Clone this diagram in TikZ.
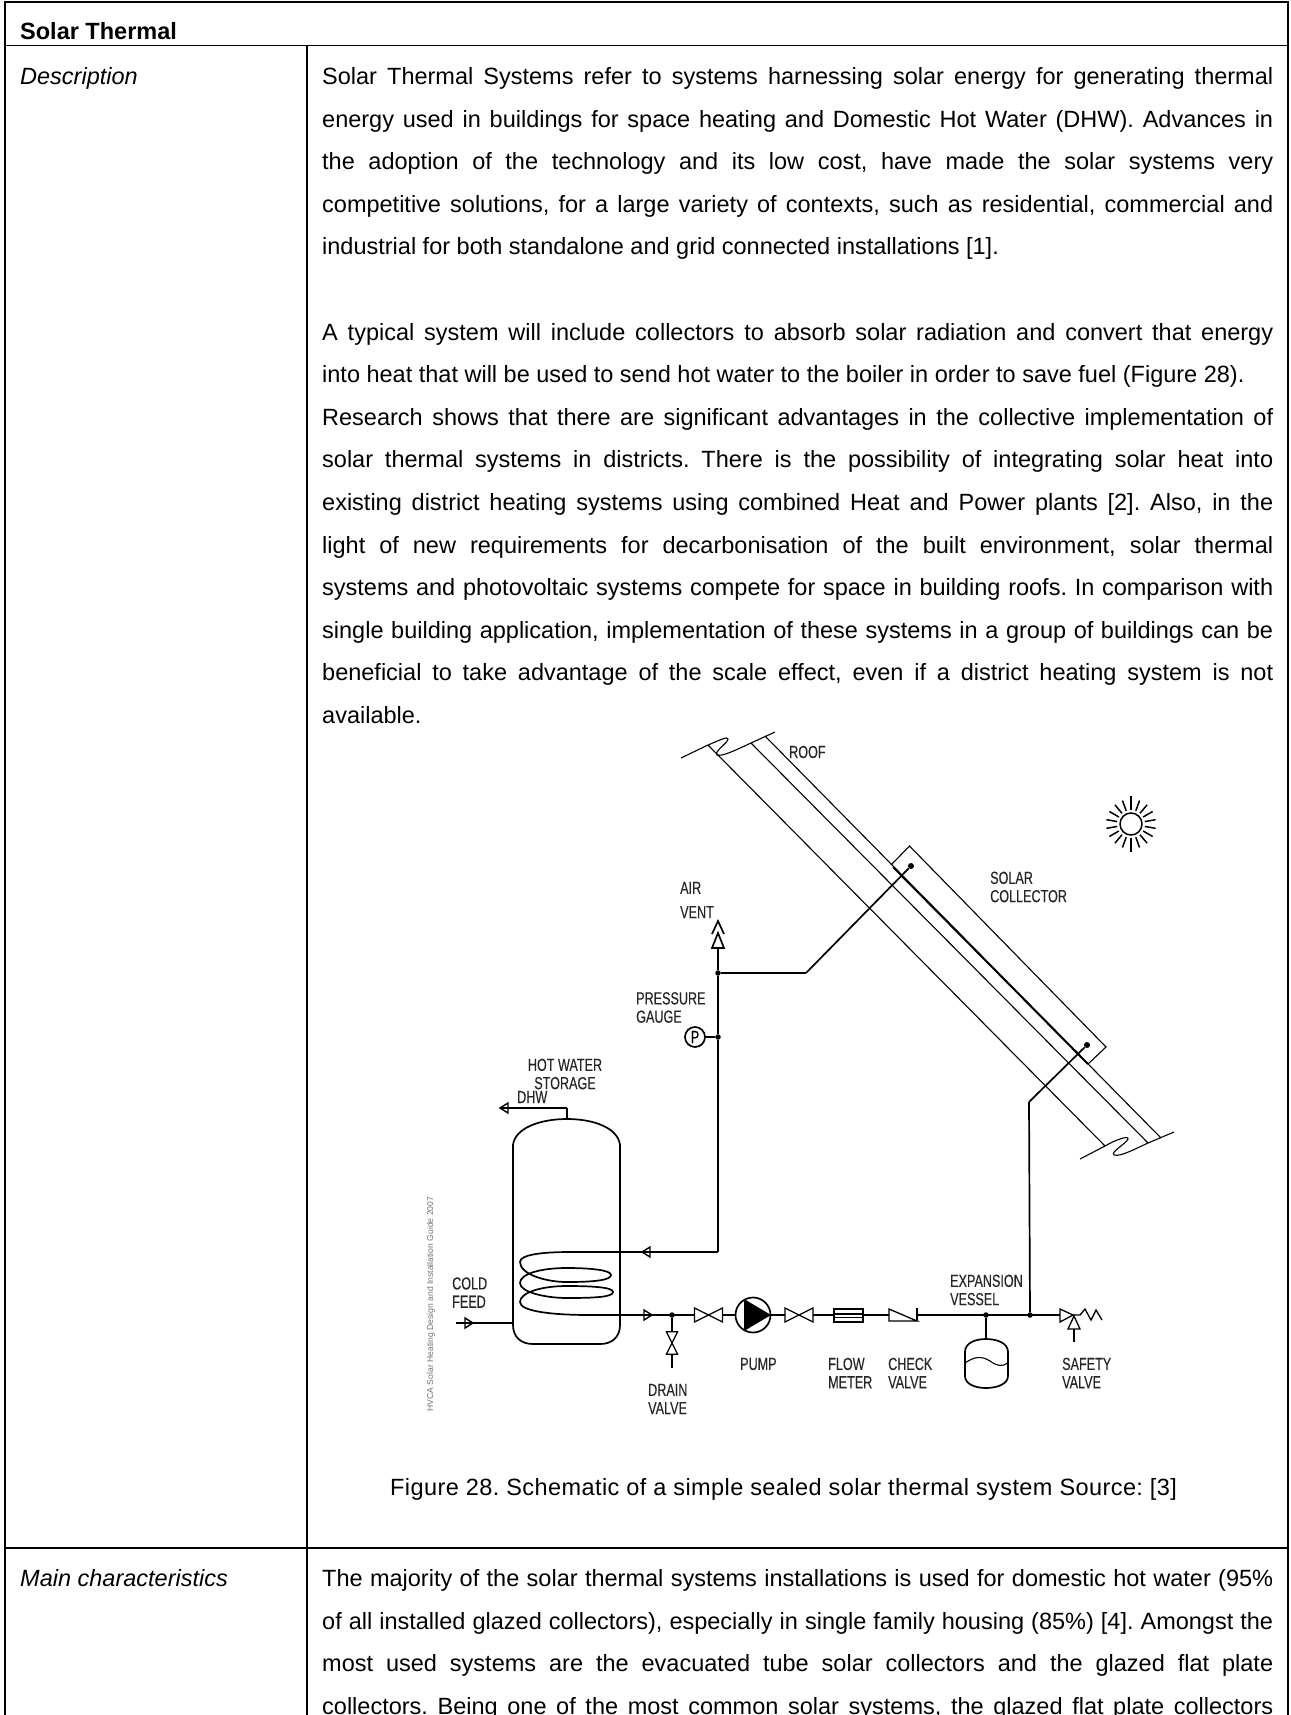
\documentclass[tikz,border=0pt]{standalone}
\usepackage{amsmath,amsthm,amssymb}
\usepackage{fontspec}
\setmainfont{Liberation Sans}
\newfontfamily\figcapfont[LetterSpace=1.8]{Liberation Sans}
\newfontfamily\cadfont[FakeStretch=0.72,FakeBold=0.25]{Liberation Sans}
\usepackage{tikz}
\usetikzlibrary{positioning}
\frenchspacing
\newcommand{\jline}[1]{\makebox[951pt][s]{#1}}
\tikzset{
    bodyline/.style={anchor=base west,inner sep=0pt,font=\fontsize{23.5}{28}\selectfont},
    boldline/.style={bodyline,font=\fontsize{23.5}{28}\selectfont\bfseries},
    rowhead/.style={bodyline,font=\fontsize{23.5}{28}\selectfont\itshape},
    figcap/.style={anchor=base west,inner sep=0pt,font=\figcapfont\fontsize{23.5}{28}\selectfont},
    cadtext/.style={anchor=west,inner sep=0pt,align=left,text=black!85,font=\cadfont\fontsize{17.5}{18.3}\selectfont},
    tableline/.style={line width=1.8pt},
    pipe/.style={line width=1.7pt},
    thinline/.style={line width=1.1pt},
    junction/.style={circle,fill,inner sep=0pt,minimum size=5.5pt},
    gatevalve/.pic={
        \draw[line width=1.3pt,fill=white] (-14,-7) -- (14,7) -- (14,-7) -- (-14,7) -- cycle;
    },
    flowarrow/.pic={
        \draw[line width=1.4pt] (-4,-5) -- (-4,5) -- (4,0) -- cycle;
    }
}
\begin{document}
\begin{tikzpicture}[x=1pt,y=-1pt]
                \useasboundingbox (0,0) rectangle (1290,1715);
                \draw[tableline] (5,1716) -- (5,2) -- (1288,2) -- (1288,1716);
                \draw[tableline] (5,45.5) -- (1288,45.5);
                \draw[tableline] (307,45.5) -- (307,1716);
                \draw[tableline] (5,1548) -- (1288,1548);
                \node[boldline] (title) at (20,40) {Solar Thermal};
                \node[rowhead] (descr) at (20,84.5) {Description};
                \node[rowhead] (mainchar) at (20,1586) {Main characteristics};
                \node[bodyline] (la) at (322,84.5) {\jline{Solar Thermal Systems refer to systems harnessing solar energy for generating thermal}};
                \node[bodyline] (lb) at (322,127.1) {\jline{energy used in buildings for space heating and Domestic Hot Water (DHW). Advances in}};
                \node[bodyline] (lc) at (322,169.7) {\jline{the adoption of the technology and its low cost, have made the solar systems very}};
                \node[bodyline] (ld) at (322,212.3) {\jline{competitive solutions, for a large variety of contexts, such as residential, commercial and}};
                \node[bodyline] (le) at (322,254.9) {industrial for both standalone and grid connected installations [1].};
                \node[bodyline] (lf) at (322,340.1) {\jline{A typical system will include collectors to absorb solar radiation and convert that energy}};
                \node[bodyline] (lg) at (322,382.7) {into heat that will be used to send hot water to the boiler in order to save fuel (Figure 28).};
                \node[bodyline] (lh) at (322,425.3) {\jline{Research shows that there are significant advantages in the collective implementation of}};
                \node[bodyline] (li) at (322,467.9) {\jline{solar thermal systems in districts. There is the possibility of integrating solar heat into}};
                \node[bodyline] (lj) at (322,510.5) {\jline{existing district heating systems using combined Heat and Power plants [2]. Also, in the}};
                \node[bodyline] (lk) at (322,553.1) {\jline{light of new requirements for decarbonisation of the built environment, solar thermal}};
                \node[bodyline] (ll) at (322,595.7) {\jline{systems and photovoltaic systems compete for space in building roofs. In comparison with}};
                \node[bodyline] (lm) at (322,638.3) {\jline{single building application, implementation of these systems in a group of buildings can be}};
                \node[bodyline] (ln) at (322,680.9) {\jline{beneficial to take advantage of the scale effect, even if a district heating system is not}};
                \node[bodyline] (lo) at (322,723.5) {available.};
                \node[figcap] (figcaption) at (390,1495) {Figure 28. Schematic of a simple sealed solar thermal system Source: [3]};
                \node[bodyline] (ma) at (322,1586) {\jline{The majority of the solar thermal systems installations is used for domestic hot water (95\%}};
                \node[bodyline] (mb) at (322,1629) {\jline{of all installed glazed collectors), especially in single family housing (85\%) [4]. Amongst the}};
                \node[bodyline] (mc) at (322,1671.5) {\jline{most used systems are the evacuated tube solar collectors and the glazed flat plate}};
                \node[bodyline] (md) at (322,1714) {\jline{collectors. Being one of the most common solar systems, the glazed flat plate collectors}};
                \draw[thinline] (708,745) -- (1105,1146);
                \draw[thinline] (751,743) -- (1148,1143);
                \draw[thinline] (765,736) -- (1161,1138);
                \draw[thinline] (681,758) -- (708,745) .. controls (720,740) and (728,736) .. (728,739) .. controls (728,743) and (714,751) .. (717,755) .. controls (722,757) and (738,749) .. (751,743) -- (775,732);
                \draw[thinline] (1080,1159) -- (1105,1146) .. controls (1115,1140) and (1129,1135) .. (1128,1139) .. controls (1126,1144) and (1110,1152) .. (1114,1155) .. controls (1120,1157) and (1135,1149) .. (1148,1143) -- (1174,1132);
                \draw[thinline] (891,865) -- (909.5,846) -- (1106,1047) -- (1088,1064);
                \draw[line width=2pt] (893,867) -- (1088,1064);
                \node[junction,minimum size=6pt] (topdot) at (911,866) {};
                \node[junction,minimum size=6pt] (botdot) at (1087,1045) {};
                \coordinate (topelbow) at (806,973);
                \coordinate (botelbow) at (1029,1102);
                \node[junction] (ventjunc) at (718,973) {};
                \node[junction] (gaugejunc) at (718,1037) {};
                \coordinate (ventend) at (718,948);
                \coordinate (coilcorner) at (718,1252);
                \coordinate (coilin) at (570,1252);
                \coordinate (coilout) at (590,1315);
                \node[junction] (drainjunc) at (672,1315) {};
                \coordinate (checkin) at (889,1315);
                \coordinate (checkout) at (917,1315);
                \node[junction] (vesseljunc) at (986,1315) {};
                \node[junction] (returnjunc) at (1030,1315) {};
                \coordinate (safetyin) at (1060,1315);
                \coordinate (drainend) at (672,1368);
                \coordinate (vesseltop) at (986,1339);
                \coordinate (tanktop) at (567,1119);
                \coordinate (dhwcorner) at (567,1108);
                \coordinate (dhwend) at (501,1108);
                \coordinate (coldend) at (456,1323);
                \coordinate (tankleft) at (513,1323);
                \coordinate (safetybase) at (1074,1329);
                \coordinate (safetyend) at (1074,1342);
                \node[circle,draw,pipe,minimum size=20pt,inner sep=0pt,font=\cadfont\fontsize{17.5}{18}\selectfont] (gauge) at (695,1037) {P};
                \path[pipe] (topdot) edge (topelbow)
                            (topelbow) edge (ventjunc)
                            (botdot) edge (botelbow)
                            (botelbow) edge (returnjunc)
                            (ventjunc) edge (ventend)
                                edge (gaugejunc)
                            (gaugejunc) edge (gauge)
                                edge (coilcorner)
                            (coilcorner) edge (coilin)
                            (coilout) edge (checkin)
                            (checkout) edge (safetyin)
                            (drainjunc) edge (drainend)
                            (vesseljunc) edge (vesseltop)
                            (tanktop) edge (dhwcorner)
                            (dhwcorner) edge (dhwend)
                            (coldend) edge (tankleft)
                            (safetybase) edge (safetyend);
                \draw[pipe] (513,1145) .. controls (515,1128) and (540,1119) .. (567,1119) .. controls (594,1119) and (618,1128) .. (620,1145) -- (620,1325) .. controls (620,1337) and (612,1344) .. (600,1344) -- (533,1344) .. controls (521,1344) and (513,1337) .. (513,1325) -- cycle;
                \draw[pipe] (coilin) .. controls (540,1252) and (520,1255) .. (520,1262) .. controls (520,1274) and (545,1282) .. (567,1282) .. controls (595,1282) and (611,1280) .. (611,1275) .. controls (611,1270) and (590,1268) .. (567,1268) .. controls (540,1268) and (520,1274) .. (520,1283) .. controls (520,1292) and (545,1298) .. (567,1298) .. controls (595,1298) and (613,1297) .. (613,1292) .. controls (613,1287) and (590,1286) .. (567,1286) .. controls (540,1286) and (520,1293) .. (520,1302) .. controls (520,1311) and (550,1315) .. (coilout);
                \pic at (646,1252) [rotate=180] {flowarrow};
                \pic at (648,1315) {flowarrow};
                \pic at (504,1108) [rotate=180] {flowarrow};
                \pic at (469,1323) {flowarrow};
                \pic at (708.5,1315) {gatevalve};
                \pic at (799,1315) {gatevalve};
                \pic at (672,1343) [rotate=90,scale=0.8] {gatevalve};
                \draw[pipe] (718,948) -- (712,948) -- (718,933) -- (724,948) -- cycle;
                \draw[pipe] (712,934) -- (718,921) -- (724,934);
                \node[circle,draw,pipe,fill=white,minimum size=35pt,inner sep=0pt] (pump) at (753,1315) {};
                \fill (744,1299) -- (771,1315) -- (744,1331) -- cycle;
                \node[rectangle,draw,pipe,fill=white,minimum width=29pt,minimum height=13pt,inner sep=0pt] (flowmeter) at (848.5,1315.5) {};
                \draw[thinline] (834,1314) -- (863,1314) (834,1317.5) -- (863,1317.5);
                \draw[line width=1.3pt] (889,1321) -- (889,1309) -- (917,1321) -- cycle;
                \draw[pipe] (917,1308) -- (917,1321);
                \draw[line width=1.3pt] (1060,1309) -- (1060,1322) -- (1073,1315) -- cycle;
                \draw[line width=1.3pt] (1074,1316) -- (1068,1329) -- (1080,1329) -- cycle;
                \draw[line width=1.3pt] (1073,1315) -- (1080,1315) -- (1085,1309) -- (1091,1320) -- (1096,1310) -- (1102,1320);
                \draw[pipe] (986,1339) .. controls (975,1339) and (965,1343) .. (965,1352) -- (965,1376) .. controls (965,1384) and (975,1388) .. (986,1388) .. controls (997,1388) and (1008,1384) .. (1008,1376) -- (1008,1352) .. controls (1008,1343) and (997,1339) .. (986,1339);
                \draw[thinline] (965,1363) .. controls (975,1356) and (982,1356) .. (990,1361) .. controls (997,1366) and (1002,1367) .. (1008,1363);
                \draw[line width=1.5pt] (1131,824) circle (11);
                \foreach \ang in {10,30,...,350}
                    \draw[line width=1.5pt] (1131,824) ++(\ang:14) -- ++(\ang:{abs(sin(\ang))>0.95 ? 14 : 11});
                \node[cadtext] (rooflabel) at (789,752) {ROOF};
                \node[cadtext] (collectorlabel) at (990,887) {SOLAR\\COLLECTOR};
                \node[cadtext] (ventlabel) at (680,900) {AIR\\[6pt]VENT};
                \node[cadtext] (gaugelabel) at (636,1007.5) {PRESSURE\\GAUGE};
                \node[cadtext,align=center,anchor=center] (tanklabel) at (565,1074) {HOT WATER\\STORAGE};
                \node[cadtext] (dhwlabel) at (517,1097) {DHW};
                \node[cadtext] (coldlabel) at (452,1292.5) {COLD\\FEED};
                \node[cadtext] (pumplabel) at (740,1364) {PUMP};
                \node[cadtext] (drainlabel) at (648,1399) {DRAIN\\VALVE};
                \node[cadtext] (flowlabel) at (828,1373) {FLOW\\METER};
                \node[cadtext] (checklabel) at (888,1373) {CHECK\\VALVE};
                \node[cadtext] (vessellabel) at (950,1290) {EXPANSION\\VESSEL};
                \node[cadtext] (safetylabel) at (1062,1373) {SAFETY\\VALVE};
                \node[rotate=90,inner sep=0pt,text=black!55,font=\fontsize{8.6}{10}\selectfont] (source) at (431,1304) {HVCA Solar Heating Design and Installation Guide 2007};
            \end{tikzpicture}
\end{document}
